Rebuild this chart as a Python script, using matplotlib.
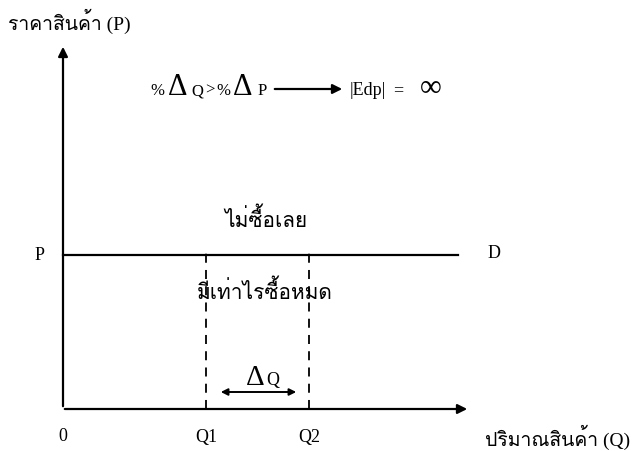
import matplotlib
matplotlib.use('Agg')
import matplotlib.pyplot as plt
from matplotlib import font_manager
from matplotlib.ft2font import FT2Font

# find a font that has Thai glyphs, fall back to the serif one
thai_font = None
for f in font_manager.fontManager.ttflist:
    try:
        if 0x0E01 in FT2Font(f.fname).get_charmap():
            thai_font = f.name
            break
    except Exception:
        pass
fams = ['Liberation Serif']
if thai_font:
    fams.append(thai_font)
fams.append('DejaVu Sans')
plt.rcParams['font.family'] = fams

# data (diagram units, origin at 0)
price_p = 154
q1 = 143
q2 = 246
d_end = 395
x_axis_end = 407
y_axis_end = 365
dash_top = 160

y_label = 'ราคาสินค้า (P)'
x_label = 'ปริมาณสินค้า (Q)'
above_text = 'ไม่ซื้อเลย'
below_text = 'มีเท่าไรซื้อหมด'

fig = plt.figure(figsize=(6.33, 4.52), dpi=100)
ax = fig.add_axes([0, 0, 1, 1])
ax.set_xlim(-63, 570)
ax.set_ylim(-42, 410)
ax.axis('off')

lw = 1.6
# axes with arrows
ax.annotate('', xy=(0, y_axis_end), xytext=(0, 0),
            arrowprops=dict(arrowstyle='-|>', lw=lw, color='black', mutation_scale=14))
ax.annotate('', xy=(x_axis_end, 0), xytext=(-1, 0),
            arrowprops=dict(arrowstyle='-|>', lw=lw, color='black', mutation_scale=14))

# demand line
ax.plot([0, d_end], [price_p, price_p], color='black', lw=lw)

# dashed lines at Q1, Q2
ax.plot([q1, q1], [0, dash_top], color='black', lw=1.3, ls=(0, (5, 4)))
ax.plot([q2, q2], [0, dash_top], color='black', lw=1.3, ls=(0, (5, 4)))

# delta Q arrow
ax.annotate('', xy=(q1 + 12, 17), xytext=(q2 - 10, 17),
            arrowprops=dict(arrowstyle='<|-|>', lw=1.4, color='black', mutation_scale=10))
ax.text(192, 25, 'Δ', fontsize=21, ha='center', va='baseline')
ax.text(210, 25, 'Q', fontsize=13, ha='center', va='baseline')

fs = 13
ax.text(-63 + 8, 389, y_label, fontsize=14, ha='left', va='center')
ax.text(567, -27, x_label, fontsize=14, ha='right', va='center')
ax.text(0, -27, '0', fontsize=fs, ha='center', va='center')
ax.text(q1, -28, 'Q1', fontsize=fs, ha='center', va='center')
ax.text(q2, -28, 'Q2', fontsize=fs, ha='center', va='center')
ax.text(-23, price_p, 'P', fontsize=fs, ha='center', va='center')
ax.text(431, price_p + 3, 'D', fontsize=fs, ha='center', va='center')
ax.text(203, 190, above_text, fontsize=15, ha='center', va='center')
ax.text(202, 118, below_text, fontsize=15, ha='center', va='center')

# formula
by = 315
ax.text(94, by, '%', fontsize=12, ha='center', va='baseline')
ax.text(115, by, 'Δ', fontsize=22, ha='center', va='baseline')
ax.text(134, by, 'Q', fontsize=12, ha='center', va='baseline')
ax.text(147, by, '>', fontsize=12, ha='center', va='baseline')
ax.text(160, by, '%', fontsize=12, ha='center', va='baseline')
ax.text(180, by, 'Δ', fontsize=22, ha='center', va='baseline')
ax.text(199, by, 'P', fontsize=12, ha='center', va='baseline')
ax.annotate('', xy=(282, by + 5), xytext=(209, by + 5),
            arrowprops=dict(arrowstyle='-|>', lw=1.6, color='black', mutation_scale=14))
ax.text(287, by, '|Edp|', fontsize=13, ha='left', va='baseline')
ax.text(335, by, '=', fontsize=13, ha='center', va='baseline')
ax.text(368, by - 1, '∞', fontsize=22, ha='center', va='baseline')

fig.savefig('out.png', dpi=100)
